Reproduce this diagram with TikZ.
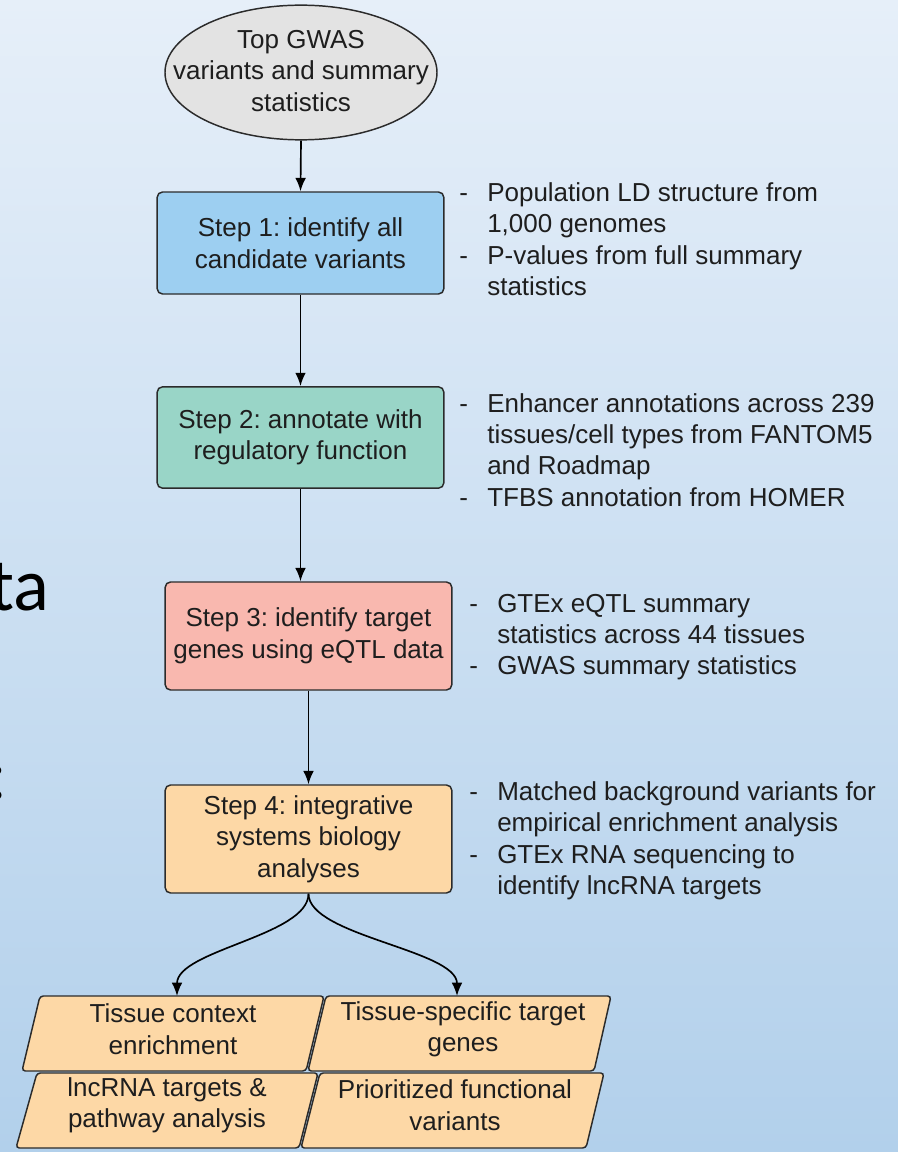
\documentclass[tikz,border=0pt]{standalone}
\usepackage{fontspec}
\setmainfont{Liberation Sans}
\newfontfamily\slidefont{Carlito}
\usetikzlibrary{shapes.geometric,arrows.meta}
\frenchspacing

\definecolor{bgtop}{HTML}{E6EFF9}
\definecolor{bgbot}{HTML}{B2D0EB}
\definecolor{edgec}{HTML}{2B2B2B}
\definecolor{ink}{HTML}{1E1E1E}
\definecolor{ovalfill}{HTML}{E3E3E3}
\definecolor{stepblue}{HTML}{9DCFF1}
\definecolor{stepteal}{HTML}{99D5C7}
\definecolor{steppink}{HTML}{F9B8AF}
\definecolor{steppeach}{HTML}{FDD8A6}

\newcommand\dashitem{\makebox[21pt][l]{-}}

\tikzset{
  basefont/.style={font=\fontsize{19.5}{23.6}\selectfont, text=ink},
  stepbox/.style={basefont, draw=edgec, line width=1.1pt, rounded corners=4pt,
    minimum width=215pt, align=center, inner sep=0pt},
  oval/.style={ellipse, draw=edgec, fill=ovalfill, line width=1.1pt,
    minimum width=204pt, minimum height=101pt, inner sep=0pt},
  para/.style={draw=edgec, fill=steppeach, line width=1.1pt, rounded corners=2.5pt},
  plaintext/.style={basefont, align=center, inner sep=0pt},
  notes/.style={basefont, anchor=base west, inner sep=0pt},
  arr/.style={draw=black, line width=1.25pt, -{Latex[length=10pt,width=8pt]}},
}

\begin{document}
\begin{tikzpicture}[x=0.75pt,y=-0.75pt]
\useasboundingbox (0,0) rectangle (898,1152);
\begin{scope}
\clip (0,0) rectangle (898,1152);
\shade[top color=bgtop, bottom color=bgbot] (0,0) rectangle (898,1152);

% slide text running in from the left
\node[anchor=base east, inner sep=0pt, font=\slidefont\fontsize{56}{60}\selectfont] (slideA) at (50,610) {ta};
\node[anchor=base east, inner sep=0pt, font=\slidefont\fontsize{56}{60}\selectfont] (slideB) at (8,799) {:};

% main column
\node[oval] (gwas) at (301,72.5) {};
\node[plaintext] (gwastext) at (301,71) {Top GWAS\\variants and summary\\statistics};
\node[stepbox, fill=stepblue, minimum height=76.5pt] (s1) at (300.5,243) {Step 1: identify all\\candidate variants};
\node[stepbox, fill=stepteal, minimum height=76pt] (s2) at (300.5,437.5) {Step 2: annotate with\\regulatory function};
\node[stepbox, fill=steppink, minimum height=81pt] (s3) at (308.5,636) {Step 3: identify target\\genes using eQTL data};
\node[stepbox, fill=steppeach, minimum height=81pt] (s4) at (308.5,839) {Step 4: integrative\\systems biology\\analyses};

% data sources for each step
\node[notes] (n1) at (459,201.5) {\begin{tabular}[t]{@{}l@{}l@{}}
\dashitem & Population LD structure from\\
 & 1,000 genomes\\
\dashitem & P-values from full summary\\
 & statistics\end{tabular}};
\node[notes] (n2) at (459,412) {\begin{tabular}[t]{@{}l@{}l@{}}
\dashitem & Enhancer annotations across 239\\
 & tissues/cell types from FANTOM5\\
 & and Roadmap\\
\dashitem & TFBS annotation from HOMER\end{tabular}};
\node[notes] (n3) at (469,612) {\begin{tabular}[t]{@{}l@{}l@{}}
\dashitem & GTEx eQTL summary\\
 & statistics across 44 tissues\\
\dashitem & GWAS summary statistics\end{tabular}};
\node[notes] (n4) at (469,800.5) {\begin{tabular}[t]{@{}l@{}l@{}}
\dashitem & Matched background variants for\\
 & empirical enrichment analysis\\
\dashitem & GTEx RNA sequencing to\\
 & identify lncRNA targets\end{tabular}};

% outputs
\path[para] (40,996) -- (324,996) -- (306,1071) -- (22,1071) -- cycle;
\path[para] (326,996) -- (611,996) -- (594,1071) -- (308,1071) -- cycle;
\path[para] (37,1073) -- (318,1073) -- (299,1148) -- (16,1148) -- cycle;
\path[para] (320,1073) -- (604,1073) -- (586,1148) -- (301,1148) -- cycle;
\node[plaintext] (o1) at (173,1029) {Tissue context\\enrichment};
\node[plaintext] (o2) at (463,1029) {Tissue-specific target\\genes};
\node[plaintext] (o3) at (167,1105) {lncRNA targets \&\\pathway analysis};
\node[plaintext] (o4) at (455,1105) {Prioritized functional\\variants};
\coordinate (o1in) at (177,996);
\coordinate (o2in) at (457,996);

% connectors
\draw[arr] (gwas.south) -- (s1.north);
\draw[arr] (s1.south) -- (s2.north);
\draw[arr] (s2.south) -- (s2.south |- s3.north);
\draw[arr] (s3.south) -- (s4.north);
\draw[arr] (s4.south) .. controls +(0,42) and +(0,-46) .. (o1in);
\draw[arr] (s4.south) .. controls +(0,42) and +(0,-46) .. (o2in);
\end{scope}
\end{tikzpicture}
\end{document}
